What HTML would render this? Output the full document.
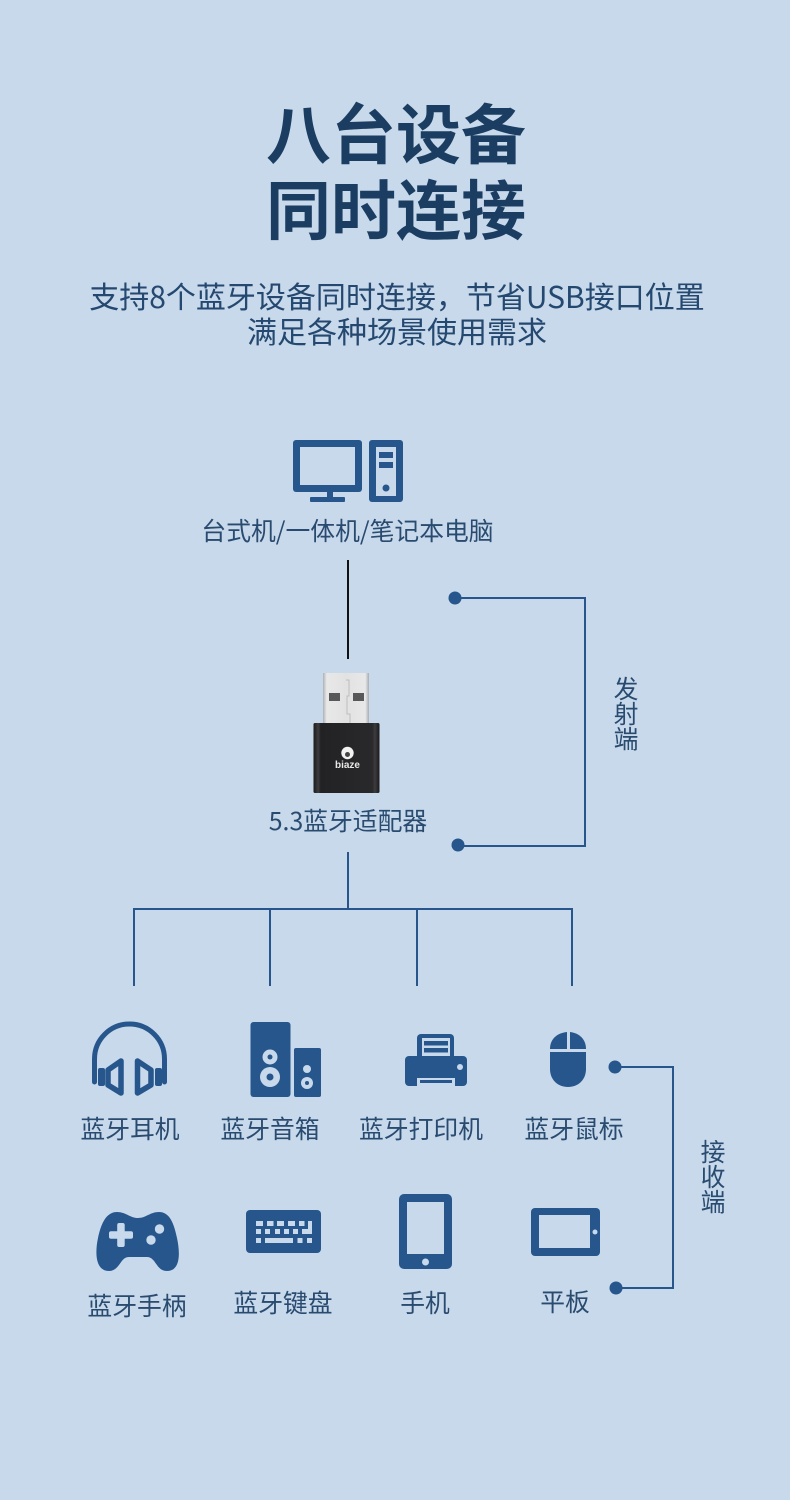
<!DOCTYPE html>
<html><head><meta charset="utf-8"><style>
html,body{margin:0;padding:0;background:#c7d9eb}
svg{display:block}
text{font-family:"Noto Sans CJK SC","Liberation Sans",sans-serif;text-anchor:middle}
.t{font-size:65px;font-weight:700;fill:#1b3d61}
.s{font-size:30px;font-weight:400;fill:#24486f}
.l{font-size:24.8px;font-weight:400;fill:#2a4b70}
.i{fill:#26568c}.b{fill:#c7d9eb}
</style></head><body>
<svg width="790" height="1500" viewBox="0 0 790 1500" xmlns="http://www.w3.org/2000/svg">
<rect width="790" height="1500" fill="#c7d9eb"/>
<text class="t" x="396" y="158">八台设备</text>
<text class="t" x="396" y="234">同时连接</text>
<text class="s" x="397" y="308">支持8个蓝牙设备同时连接&#xFF0C;节省USB接口位置</text>
<text class="s" x="397" y="343">满足各种场景使用需求</text>

<!-- computer -->
<rect class="i" x="293" y="440" width="69" height="52" rx="3"/>
<rect class="b" x="300" y="447" width="55" height="38"/>
<rect class="i" x="327" y="491" width="6" height="7"/>
<rect class="i" x="310" y="497" width="35" height="5" rx="1"/>
<rect class="i" x="369" y="440" width="34" height="62" rx="3"/>
<rect class="b" x="376" y="447" width="20" height="49"/>
<rect class="i" x="379" y="452" width="14" height="6"/>
<rect class="i" x="379" y="462" width="14" height="6"/>
<circle class="i" cx="386" cy="488" r="3.5"/>
<text class="l" x="347.500" y="540">台式机/一体机/笔记本电脑</text>

<!-- connectors -->
<line x1="348" y1="560" x2="348" y2="659" stroke="#111" stroke-width="2"/>
<path d="M455,598 H585 V846 H458" fill="none" stroke="#26568c" stroke-width="2"/>
<circle class="i" cx="455" cy="598" r="6.500"/>
<circle class="i" cx="458" cy="845" r="6.500"/>
<text class="l" x="626" y="698">发</text>
<text class="l" x="626" y="723">射</text>
<text class="l" x="626" y="748">端</text>

<!-- usb dongle -->
<defs>
<linearGradient id="m" x1="0" x2="1" y1="0" y2="0"><stop offset="0" stop-color="#aeb1b5"/><stop offset=".08" stop-color="#e8e8e8"/><stop offset=".5" stop-color="#e2e2e2"/><stop offset=".92" stop-color="#e8e8e8"/><stop offset="1" stop-color="#a9acb0"/></linearGradient>
<linearGradient id="k" x1="0" x2="1" y1="0" y2="0"><stop offset="0" stop-color="#1a1a1c"/><stop offset=".07" stop-color="#3d3d3f"/><stop offset=".11" stop-color="#222224"/><stop offset=".89" stop-color="#29292b"/><stop offset=".93" stop-color="#3d3d3f"/><stop offset="1" stop-color="#1a1a1c"/></linearGradient>
</defs>
<rect x="323" y="673" width="46" height="51" fill="url(#m)"/>
<path d="M346,680 h3 v16 h-2 v18 h3 v9" fill="none" stroke="#bdbdbd" stroke-width="1"/>
<rect x="329" y="693" width="11" height="8" fill="#58585a"/>
<rect x="353" y="693" width="11" height="8" fill="#58585a"/>
<rect x="313.500" y="723" width="66" height="70" rx="1.500" fill="url(#k)"/>
<circle cx="347.500" cy="753" r="6.200" fill="#f2f2f2"/>
<circle cx="347.500" cy="754.500" r="2.500" fill="#444"/>
<text x="347.500" y="768" style="font-family:'Liberation Sans',sans-serif;font-size:10px;font-weight:bold;fill:#e8e8e8">biaze</text>
<text class="l" x="348" y="830">5.3蓝牙适配器</text>

<!-- tree -->
<path d="M348,852 V909 M134,986 V909 H572 V986 M270,909 V986 M417,909 V986" fill="none" stroke="#26568c" stroke-width="2"/>

<!-- headphones -->
<path d="M94.500,1082 V1059 A35,35 0 0 1 164.500,1059 V1082" fill="none" stroke="#26568c" stroke-width="5" stroke-linecap="round"/>
<rect class="i" x="98" y="1068" width="7" height="18" rx="2"/>
<rect class="i" x="155" y="1068" width="7" height="18" rx="2"/>
<path d="M121,1061 L108,1070 V1085 L121,1093 Z M137.500,1061 L151,1070 V1085 L137.500,1093 Z" fill="none" stroke="#26568c" stroke-width="5.500" stroke-linejoin="round"/>
<text class="l" x="130" y="1138">蓝牙耳机</text>

<!-- speakers -->
<rect class="i" x="250.500" y="1022" width="40" height="75" rx="3"/>
<rect class="i" x="294" y="1048" width="27" height="49" rx="2"/>
<circle class="b" cx="270" cy="1057" r="7.500"/><circle class="i" cx="270" cy="1057" r="2.500"/>
<circle class="b" cx="270" cy="1077" r="10"/><circle class="i" cx="270" cy="1077" r="3.500"/>
<circle class="b" cx="307" cy="1069" r="4"/>
<circle class="b" cx="307" cy="1083" r="6"/><circle class="i" cx="307" cy="1083" r="2"/>
<text class="l" x="270" y="1138">蓝牙音箱</text>

<!-- printer -->
<rect class="i" x="417" y="1034" width="37" height="26" rx="4"/>
<rect class="b" x="422" y="1038" width="28" height="19"/>
<rect class="i" x="424" y="1041" width="24" height="4.500"/>
<rect class="i" x="424" y="1048" width="24" height="4.500"/>
<rect class="i" x="405" y="1056" width="62" height="30" rx="4"/>
<circle class="b" cx="460" cy="1067" r="3"/>
<rect class="b" x="417" y="1078" width="38" height="8"/>
<rect class="i" x="420" y="1080" width="32" height="3"/>
<text class="l" x="421" y="1138">蓝牙打印机</text>

<!-- mouse -->
<path class="i" d="M567,1032 V1049 H550 C550,1039 557,1033 567,1032 Z"/>
<path class="i" d="M570,1032 V1049 H586 C586,1039 579,1033 570,1032 Z"/>
<path class="i" d="M550,1052 H586 V1069 C586,1080 578,1087 568,1087 C558,1087 550,1080 550,1069 Z"/>
<text class="l" x="574" y="1138">蓝牙鼠标</text>

<!-- right bracket -->
<path d="M615,1067 H673 V1288 H616" fill="none" stroke="#26568c" stroke-width="2"/>
<circle class="i" cx="615" cy="1067" r="6.500"/>
<circle class="i" cx="616" cy="1288" r="6.500"/>
<text class="l" x="713" y="1161">接</text>
<text class="l" x="713" y="1186">收</text>
<text class="l" x="713" y="1211">端</text>

<!-- gamepad -->
<path class="i" d="M117,1212 C126,1212 130,1218 138,1218 C146,1218 150,1212 159,1212 C170,1212 174,1224 177,1238 C180,1252 181,1271 167,1271 C156,1271 156,1257 147,1257 H129 C120,1257 120,1271 109,1271 C95,1271 95,1252 98,1238 C101,1224 106,1212 117,1212 Z"/>
<rect class="b" x="109" y="1231.200" width="24" height="7.500" rx="2"/>
<rect class="b" x="117.200" y="1223" width="7.500" height="24" rx="2"/>
<circle class="b" cx="159.500" cy="1229" r="4.700"/>
<circle class="b" cx="151" cy="1240" r="4.700"/>
<text class="l" x="137" y="1315">蓝牙手柄</text>

<!-- keyboard -->
<rect class="i" x="246" y="1210" width="75" height="43" rx="4"/>
<g class="b">
<rect x="256" y="1221" width="7" height="5"/><rect x="267" y="1221" width="6.500" height="5"/><rect x="277" y="1221" width="7" height="5"/><rect x="288" y="1221" width="7" height="5"/><rect x="299" y="1221" width="5.500" height="5"/>
<rect x="256" y="1229" width="5" height="5"/><rect x="265" y="1229" width="5" height="5"/><rect x="275" y="1229" width="5" height="5"/><rect x="284" y="1229" width="5" height="5"/><rect x="293" y="1229" width="5" height="5"/>
<path d="M308,1221 h4 v13 h-10 v-5 h6 Z"/>
<rect x="256" y="1238" width="5" height="5"/><rect x="265" y="1238" width="28" height="5"/><rect x="297.500" y="1238" width="5" height="5"/><rect x="307" y="1238" width="5" height="5"/>
</g>
<text class="l" x="283" y="1312">蓝牙键盘</text>

<!-- phone -->
<rect class="i" x="399" y="1194" width="53" height="75" rx="5"/>
<rect class="b" x="407" y="1202" width="37" height="52"/>
<circle class="b" cx="425.500" cy="1262" r="3.500"/>
<text class="l" x="425" y="1312">手机</text>

<!-- tablet -->
<rect class="i" x="531" y="1208" width="69" height="48" rx="4"/>
<rect class="b" x="539" y="1215" width="51" height="33"/>
<circle class="b" cx="595" cy="1232" r="2.500"/>
<text class="l" x="565" y="1311">平板</text>
</svg>
</body></html>
